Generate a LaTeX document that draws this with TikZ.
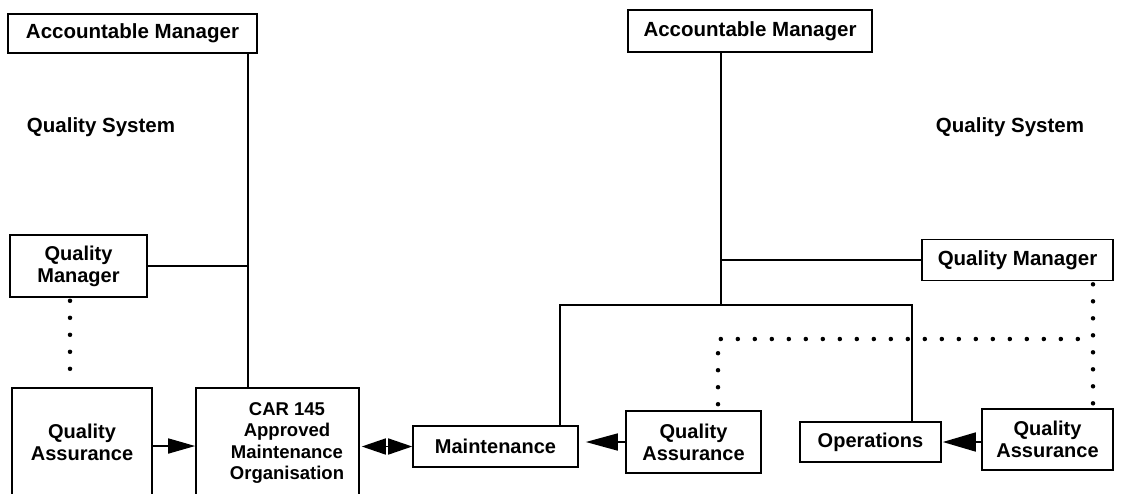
\documentclass[tikz,border=0pt]{standalone}
\usepackage{fontspec}
\setmainfont{Liberation Sans}
\usetikzlibrary{arrows.meta}
\begin{document}
\begin{tikzpicture}[x=1pt,y=-1pt,
  box/.style={draw,line width=1.6pt,inner sep=0pt,align=center,font=\fontsize{20}{22}\selectfont\bfseries},
  lbl/.style={inner sep=0pt,align=center,font=\fontsize{20.5}{22}\selectfont\bfseries},
  conn/.style={line width=1.6pt},
  dots/.style={line width=4.5pt,line cap=round,dash pattern=on 0pt off 17pt}]
\useasboundingbox (0,0) rectangle (1121,493);
\clip (0,0) rectangle (1121,493);
% left side
\node[box,minimum width=249pt,minimum height=39pt,font=\fontsize{20.5}{22}\selectfont\bfseries] (am1) at (132.5,33.5) {Accountable Manager};
\node[lbl] (qs1) at (101,127) {Quality System};
\node[box,minimum width=137pt,minimum height=62pt] (qm1) at (78.5,266) {Quality\\Manager};
\node[box,minimum width=140pt,minimum height=108pt] (qa1) at (82,442) {Quality\\Assurance};
\node[box,minimum width=163pt,minimum height=112pt] (car) at (277.5,444) {};
\node[inner sep=0pt,align=center,font=\fontsize{18.5}{21.5}\selectfont\bfseries] (cartext) at (287,443) {CAR 145\\Approved\\Maintenance\\Organisation};
% right side
\node[box,minimum width=244pt,minimum height=42pt,font=\fontsize{20.5}{22}\selectfont\bfseries] (am2) at (750,31) {Accountable Manager};
\node[lbl] (qs2) at (1010,127) {Quality System};
\node[box,minimum width=191pt,minimum height=41pt,font=\fontsize{20.5}{22}\selectfont\bfseries] (qm2) at (1017.5,260) {Quality Manager};
\node[box,minimum width=165pt,minimum height=41pt] (mnt) at (495.5,446.5) {Maintenance};
\node[box,minimum width=135pt,minimum height=62pt] (qa2) at (693.5,442) {Quality\\Assurance};
\node[box,minimum width=141pt,minimum height=40pt] (ops) at (870.5,442) {Operations};
\node[box,minimum width=131pt,minimum height=61pt] (qa3) at (1047.5,439.5) {Quality\\Assurance};
% helper coordinates
\coordinate (v1) at (248,0);
\coordinate (d0) at (70,0);
\coordinate (v2) at (721,0);
\coordinate (bl) at (560,305);
\coordinate (br) at (912,305);
\coordinate (d1) at (718,339);
\coordinate (d2) at (1093,339);
% left connectors
\draw[conn] (am1.south -| v1) -- (car.north -| v1);
\draw[conn] (qm1.east) -- (qm1.east -| v1);
\draw[dots,shorten <=3pt,shorten >=8pt] (qm1.south -| d0) -- (qa1.north -| d0);
\draw[conn,-{Triangle[length=27pt,width=15pt]}] ([yshift=-4pt]qa1.east) -- ([yshift=-4pt]qa1.east -| car.west);
\draw[conn,{Triangle[length=24pt,width=16pt]}-{Triangle[length=24pt,width=16pt]},shorten <=2pt] (car.east |- mnt.west) -- (mnt.west);
% right connectors
\draw[conn] (am2.south -| v2) -- (bl -| v2);
\draw[conn] (qm2.west) -- (qm2.west -| v2);
\draw[conn] (mnt.north -| bl) -- (bl) -- (br) -- (ops.north -| br);
\draw[dots,shorten <=6pt] (qa2.north -| d1) -- (d1) -- (d2);
\draw[dots,shorten <=3pt,shorten >=3pt] (qm2.south -| d2) -- (qa3.north -| d2);
\draw[conn,-{Triangle[length=32pt,width=17pt]},shorten >=7pt] (qa2.west) -- (qa2.west -| mnt.east);
\draw[conn,-{Triangle[length=33pt,width=19pt]},shorten >=1pt] (qa3.west |- ops.east) -- (ops.east);
\end{tikzpicture}
\end{document}
